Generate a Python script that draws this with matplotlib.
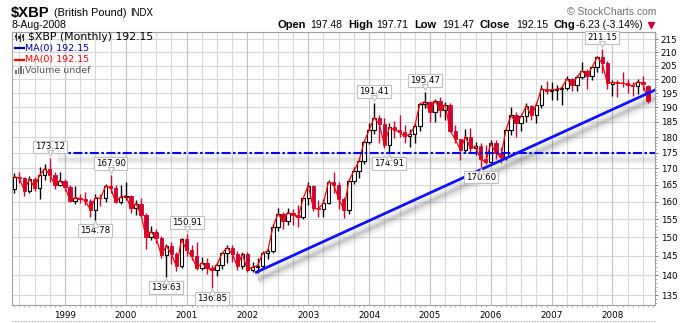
import numpy as np
import pandas as pd
import matplotlib
matplotlib.use("Agg")
import matplotlib.pyplot as plt
import matplotlib.transforms as mtransforms
from matplotlib.lines import Line2D
from matplotlib.patches import Rectangle
from matplotlib.ticker import FixedLocator, FixedFormatter, NullFormatter

# ---------------------------------------------------------------------------
# $XBP (British Pound index) monthly OHLC, Mar-1998 .. Aug-2008
# ---------------------------------------------------------------------------
first_month = "1998-03"
last_month = "2008-08"

open_prices = [
    163.9, 167.5, 167.0, 163.3, 166.8, 164.2, 167.9, 169.9, 168.1, 165.0,
    166.3, 164.4, 160.3, 161.2, 160.9, 160.3, 157.7, 161.2, 161.0, 164.6, 164.2, 159.8,
    161.4, 161.7, 158.3, 159.4, 156.3, 150.0, 151.5, 149.7, 145.2, 147.7, 145.4, 142.3,
    149.4, 146.5, 144.9, 141.9, 143.1, 141.9, 141.2, 142.7, 145.7, 147.2, 145.5, 142.3,
    145.5, 141.3, 142.1, 142.4, 145.7, 146.3, 152.7, 156.5, 154.6, 156.9, 156.3, 155.5,
    161.0, 164.8, 158.1, 157.9, 159.7, 165.9, 165.0, 160.9, 157.7, 166.1, 169.3, 172.3,
    178.4, 182.3, 186.5, 184.2, 177.5, 183.2, 182.4, 181.6, 180.2, 180.9, 183.5, 191.2,
    192.0, 188.4, 192.3, 189.0, 190.9, 182.1, 179.2, 175.9, 180.1, 176.4, 177.0, 172.9,
    172.0, 177.9, 174.8, 173.6, 182.4, 187.2, 184.8, 186.9, 190.4, 187.2, 190.9, 196.6,
    195.8, 196.2, 196.3, 196.8, 200.1, 197.8, 200.7, 203.0, 201.3, 204.4, 208.2, 205.8,
    198.4, 198.8, 198.6, 198.5, 198.0, 197.6, 199.1, 197.48,
]

high_prices = [
    168.6, 168.8, 167.5, 167.6, 167.3, 170.4, 171.5, 173.12, 168.8, 168.9,
    166.9, 165.0, 164.6, 162.3, 162.8, 160.9, 162.2, 162.3, 165.2, 167.90, 164.9, 164.9,
    165.9, 162.0, 160.5, 161.0, 156.8, 153.0, 152.4, 150.3, 148.1, 148.6, 146.0, 149.7,
    150.91, 148.0, 148.7, 144.8, 144.5, 142.5, 143.5, 146.0, 148.0, 148.0, 146.4, 146.0,
    146.0, 143.3, 144.4, 146.3, 147.2, 153.6, 158.2, 157.0, 158.2, 157.9, 159.1, 161.3,
    165.9, 164.9, 160.6, 160.8, 166.4, 168.8, 166.0, 161.5, 166.7, 170.6, 173.3, 179.0,
    184.8, 191.41, 187.4, 186.4, 184.6, 185.4, 187.5, 184.0, 182.6, 184.5, 191.6, 195.47,
    192.3, 193.0, 193.5, 192.0, 191.5, 184.0, 179.5, 182.7, 182.9, 178.3, 177.9, 177.5,
    178.9, 178.9, 176.8, 183.0, 190.1, 188.4, 187.6, 191.6, 190.9, 191.8, 197.9, 199.3,
    199.0, 198.0, 197.9, 201.3, 200.4, 201.6, 206.2, 203.6, 205.0, 208.7, 211.15, 206.6,
    199.7, 199.5, 202.6, 199.9, 198.8, 199.9, 201.0, 197.71,
]

low_prices = [
    162.6, 165.6, 161.8, 162.6, 163.2, 160.8, 166.6, 166.0, 163.8, 164.6,
    163.3, 159.9, 159.4, 159.5, 159.0, 155.5, 154.78, 158.9, 159.8, 162.7, 159.6, 159.3,
    160.4, 156.9, 156.2, 155.5, 146.9, 149.2, 148.5, 144.5, 139.63, 142.8, 141.0, 141.8,
    144.9, 143.8, 141.3, 141.2, 140.3, 136.85, 139.8, 141.6, 143.2, 143.3, 141.4, 141.7,
    140.8, 140.9, 140.6, 141.9, 144.3, 145.8, 151.8, 152.2, 153.3, 153.4, 152.8, 155.2,
    159.0, 157.3, 155.5, 155.5, 159.4, 162.6, 158.0, 155.4, 156.5, 165.2, 167.1, 171.5,
    177.8, 181.1, 178.0, 176.5, 174.91, 179.8, 179.9, 178.0, 176.9, 177.9, 181.9, 189.6,
    185.0, 184.9, 186.8, 185.6, 181.5, 177.9, 172.6, 175.0, 175.3, 174.3, 170.60, 171.3,
    171.7, 172.9, 171.8, 172.6, 180.5, 179.9, 181.9, 185.0, 185.5, 184.7, 189.7, 194.8,
    192.7, 192.6, 190.9, 196.2, 195.8, 195.6, 200.2, 196.5, 199.8, 202.6, 202.2, 196.6,
    194.0, 193.6, 197.1, 194.9, 194.0, 194.5, 196.0, 191.47,
]

close_prices = [
    167.5, 167.0, 163.3, 166.8, 164.2, 167.9, 169.9, 168.1, 165.0, 166.3,
    164.4, 160.3, 161.2, 160.9, 160.3, 157.7, 161.2, 161.0, 164.6, 164.2, 159.8, 161.4,
    161.7, 158.3, 159.4, 156.3, 150.0, 151.5, 149.7, 145.2, 147.7, 145.4, 142.3, 149.4,
    146.5, 144.9, 141.9, 143.1, 141.9, 141.2, 142.7, 145.7, 147.2, 145.5, 142.3, 145.5,
    141.3, 142.1, 142.4, 145.7, 146.3, 152.7, 156.5, 154.6, 156.9, 156.3, 155.5, 161.0,
    164.8, 158.1, 157.9, 159.7, 165.9, 165.0, 160.9, 157.7, 166.1, 169.3, 172.3, 178.4,
    182.3, 186.5, 184.2, 177.5, 183.2, 182.4, 181.6, 180.2, 180.9, 183.5, 191.2, 192.0,
    188.4, 192.3, 189.0, 190.9, 182.1, 179.2, 175.9, 180.1, 176.4, 177.0, 172.9, 172.0,
    177.9, 174.8, 173.6, 182.4, 187.2, 184.8, 186.9, 190.4, 187.2, 190.9, 196.6, 195.8,
    196.2, 196.3, 196.8, 200.1, 197.8, 200.7, 203.0, 201.3, 204.4, 208.2, 205.8, 198.5,
    198.8, 198.6, 198.5, 198.0, 197.6, 199.1, 198.38, 192.15,
]

# labelled swing highs / lows
callouts = [
    ("1998-10", "high"), ("1999-07", "low"), ("1999-10", "high"),
    ("2000-09", "low"), ("2001-01", "high"), ("2001-06", "low"),
    ("2004-02", "high"), ("2004-05", "low"), ("2004-12", "high"),
    ("2005-11", "low"), ("2007-11", "high"),
]

# drawn annotations: rising trend line and horizontal support level
trend_months = [37.5, 116.8]          # months since Jan-1999
trend_values = [140.6, 196.4]
support_level = 175.0
support_from_month = -1.6

year_labels = [str(y) for y in range(1999, 2009)]
price_ticks = list(range(135, 216, 5))

# ---------------------------------------------------------------------------
W, H = 682, 323
RED = "#cc0033"

months = pd.period_range(first_month, last_month, freq="M")
xpos = np.array([(p.year - 1999) * 12 + (p.month - 1) for p in months], dtype=float)
o = np.array(open_prices)
h = np.array(high_prices)
l = np.array(low_prices)
c = np.array(close_prices)

fig = plt.figure(figsize=(W / 100, H / 100), dpi=100)
fig.patch.set_facecolor("white")


def fx(px):
    return px / W


def fy(py):
    return 1 - py / H


ax = fig.add_axes([fx(12), fy(305), (655 - 12) / W, (305 - 32) / H])
ax.set_yscale("log")
XMIN, XMAX = -10.45, 116.4
ax.set_xlim(XMIN, XMAX)
ax.set_ylim(132.6, 217.9)

# grid
for v in price_ticks:
    ax.axhline(v, color="#d8d8d8", lw=0.8, zorder=0)
for m in range(-9, 117, 3):
    ax.axvline(m, color="#c2c2c2" if m % 12 == 0 else "#d8d8d8", lw=0.8, zorder=0)


def shadow(xs, ys, dx, dy, widths, alphas, color="#505050"):
    t = mtransforms.offset_copy(ax.transData, fig=fig, x=dx, y=-dy, units="dots")
    for lw, a in zip(widths, alphas):
        ax.plot(xs, ys, color=color, lw=lw, alpha=a, transform=t,
                solid_capstyle="butt", zorder=1.5)


# support line + shadow
sup_x = [support_from_month, XMAX]
sup_y = [support_level, support_level]
shadow(sup_x, sup_y, 0, 6, [8, 5, 2.5], [0.035, 0.05, 0.07])

# trend line shadow
shadow(trend_months, trend_values, 3, 7, [10, 7, 4, 2], [0.05, 0.07, 0.1, 0.12])

# candles
up = c >= o
dn = ~up
ax.vlines(xpos[up], l[up], h[up], colors="black", lw=1.0, zorder=2)
ax.vlines(xpos[dn], l[dn], h[dn], colors=RED, lw=1.0, zorder=2)
ax.bar(xpos[up], c[up] - o[up], bottom=o[up], width=0.68, facecolor="white",
       edgecolor="black", lw=0.8, zorder=2.5)
ax.bar(xpos[dn], o[dn] - c[dn], bottom=c[dn], width=0.68, facecolor=RED,
       edgecolor=RED, lw=0.6, zorder=2.5)

# MA(0) = close line
ax.plot(xpos, c, color="#ff0000", lw=0.9, zorder=3)

# overlay lines
ax.plot(sup_x, sup_y, color="#0000ff", lw=1.5, zorder=4,
        dashes=(4.3, 1.2, 1.2, 1.2))
ax.plot(trend_months, trend_values, color="#1010ff", lw=2.0, zorder=4,
        solid_capstyle="butt")

# callout boxes
for period, kind in callouts:
    i = months.get_loc(pd.Period(period, freq="M"))
    is_high = kind == "high"
    val = h[i] if is_high else l[i]
    off = 11.5 if is_high else -10.5
    ax.annotate(f"{val:.2f}", xy=(xpos[i], val), xytext=(0, off),
                textcoords="offset pixels", ha="center", va="center",
                fontsize=6.2, color="black", zorder=6, annotation_clip=False,
                bbox=dict(boxstyle="square,pad=0.22", fc="white", ec="#c0c0c0", lw=0.8))
    t = mtransforms.offset_copy(ax.transData, fig=fig, x=0,
                                y=(5.0 if is_high else -4.5), units="dots")
    ax.plot([xpos[i]], [val], marker="v" if is_high else "^", ms=4.2,
            mfc="white", mec="#c0c0c0", mew=0.8, transform=t, zorder=7,
            clip_on=False)

# axes / ticks
ax.yaxis.set_major_locator(FixedLocator(price_ticks))
ax.yaxis.set_major_formatter(FixedFormatter([str(v) for v in price_ticks]))
ax.yaxis.set_minor_locator(FixedLocator(np.arange(133, 218, 1)))
ax.yaxis.set_minor_formatter(NullFormatter())
ax.yaxis.tick_right()
ax.tick_params(axis="y", which="major", length=2.5, width=0.8, color="#808080",
               pad=1.5, labelsize=6.3, right=True, left=False)
ax.tick_params(axis="y", which="minor", length=1.5, width=0.6, color="#a8a8a8",
               right=True, left=False)

ax.xaxis.set_major_locator(FixedLocator(np.arange(0, 109, 12)))
ax.xaxis.set_major_formatter(FixedFormatter(year_labels))
ax.xaxis.set_minor_locator(FixedLocator(np.arange(-10, 117, 1)))
ax.xaxis.set_minor_formatter(NullFormatter())
ax.tick_params(axis="x", which="major", length=0, pad=4.5, labelsize=6.3)
ax.tick_params(axis="x", which="minor", length=1.5, width=0.6, color="#a8a8a8")

for s in ax.spines.values():
    s.set_color("#a0a0a0")
    s.set_linewidth(0.8)

# ---------------------------------------------------------------------------
# header: title pieces laid out left to right
LIB = "Liberation Sans"
renderer = fig.canvas.get_renderer()
cursor = 11.0
for txt, size, weight, gap in [("$XBP", 10.6, "bold", 4.0),
                               ("(British Pound)", 7.8, "normal", 4.0),
                               ("INDX", 6.9, "normal", 0.0)]:
    t = fig.text(fx(cursor), fy(16.5), txt, fontsize=size, fontweight=weight,
                 family=LIB, va="baseline", parse_math=False)
    cursor += t.get_window_extent(renderer).width + gap

fig.text(fx(11), fy(28), "8-Aug-2008", fontsize=7.6, family=LIB, va="baseline")
fig.text(fx(567), fy(15), "\u00a9 StockCharts.com", fontsize=7.5, family=LIB,
         color="#707070", va="baseline")

chg = c[-1] - c[-2]
pct = chg / c[-2] * 100
header = [
    (277, "Open", True), (310, f"{o[-1]:.2f}", False),
    (348, "High", True), (376, f"{h[-1]:.2f}", False),
    (414, "Low", True), (442, f"{l[-1]:.2f}", False),
    (480, "Close", True), (516, f"{c[-1]:.2f}", False),
    (554, "Chg", True), (576, f"{chg:.2f} ({pct:.2f}%)", False),
]
for px, txt, bold in header:
    fig.text(fx(px), fy(28), txt, family=LIB, va="baseline",
             fontsize=8.0 if bold else 7.5,
             fontweight="bold" if bold else "normal")
fig.add_artist(Line2D([fx(651)], [fy(24.5)], marker="v", ms=5, color=RED,
                      mec=RED, transform=fig.transFigure))

# in-chart legend
leg_y = [36.5, 48.0, 59.5, 70.5]
fig.text(fx(28), fy(leg_y[0]), f"$XBP (Monthly) {c[-1]:.2f}", fontsize=7.8,
         va="center", parse_math=False)
fig.text(fx(25), fy(leg_y[1]), f"MA(0) {c[-1]:.2f}", fontsize=6.8, color="#000099",
         va="center")
fig.text(fx(25), fy(leg_y[2]), f"MA(0) {c[-1]:.2f}", fontsize=6.8, color="#ff0000",
         va="center")
fig.text(fx(25), fy(leg_y[3]), "Volume undef", fontsize=6.8, color="#555555",
         va="center")

# candle icon
for ix, (top, bot, b0, b1) in zip([16, 19.5, 23],
                                 [(33, 40, 35, 38), (34, 40.5, 36, 39), (33.5, 40, 35, 37.5)]):
    fig.add_artist(Line2D([fx(ix), fx(ix)], [fy(top), fy(bot)], color="#333333",
                          lw=0.8, transform=fig.transFigure))
    fig.add_artist(Rectangle((fx(ix - 1.2), fy(b1)), 2.4 / W, (b1 - b0) / H,
                             facecolor="#333333", edgecolor="none",
                             transform=fig.transFigure))
# MA line icons
fig.add_artist(Line2D([fx(15), fx(24)], [fy(leg_y[1]), fy(leg_y[1])], color="#000099",
                      lw=1.6, transform=fig.transFigure))
fig.add_artist(Line2D([fx(15), fx(24)], [fy(leg_y[2]), fy(leg_y[2])], color="#ff0000",
                      lw=1.6, transform=fig.transFigure))
# volume icon
for bx, bh in zip([15, 17.5, 20, 22.5], [4, 6.5, 7.5, 5.5]):
    fig.add_artist(Rectangle((fx(bx), fy(74)), 1.8 / W, bh / H, facecolor="#707070",
                             edgecolor="none", transform=fig.transFigure))

# top edge of the (empty) panel below
fig.add_artist(Line2D([fx(12), fx(655)], [fy(321), fy(321)], color="#a0a0a0", lw=0.8,
                      linestyle=(0, (1, 1.5)), transform=fig.transFigure))

fig.savefig("out.png", dpi=100, facecolor="white")
